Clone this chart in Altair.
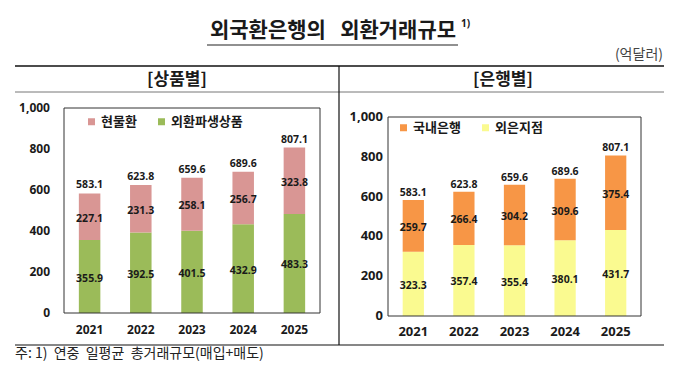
import altair as alt
import pandas as pd

years = ["2021", "2022", "2023", "2024", "2025"]
# 상품별
spot = [227.1, 231.3, 258.1, 256.7, 323.8]          # 현물환
deriv = [355.9, 392.5, 401.5, 432.9, 483.3]         # 외환파생상품
total_l = [583.1, 623.8, 659.6, 689.6, 807.1]
# 은행별
domestic = [259.7, 266.4, 304.2, 309.6, 375.4]      # 국내은행
foreign = [323.3, 357.4, 355.4, 380.1, 431.7]       # 외은지점
total_r = [583.1, 623.8, 659.6, 689.6, 807.1]
y_ticks = [0, 200, 400, 600, 800, 1000]

left_series = ["현물환", "외환파생상품"]
right_series = ["국내은행", "외은지점"]

KR = "Noto Sans CJK KR"
NUM = "Noto Sans"
INK = "#1a1a1a"
NB = "\u00a0"


def stack_df(bottom_vals, top_vals, bottom_name, top_name):
    rows = []
    for yr, b, t in zip(years, bottom_vals, top_vals):
        rows.append({"year": yr, "series": bottom_name, "bottom": 0, "top": b, "mid": b / 2, "v": b})
        rows.append({"year": yr, "series": top_name, "bottom": b, "top": b + t, "mid": b + t / 2, "v": t})
    return pd.DataFrame(rows)


df_l = stack_df(deriv, spot, "외환파생상품", "현물환")
df_r = stack_df(foreign, domestic, "외은지점", "국내은행")
tot_l = pd.DataFrame({"year": years, "total": total_l, "top": [a + b for a, b in zip(deriv, spot)]})
tot_r = pd.DataFrame({"year": years, "total": total_r, "top": [a + b for a, b in zip(foreign, domestic)]})
ticks = pd.DataFrame({"v": y_ticks})
yrs = pd.DataFrame({"year": years})
dummy = alt.Data(values=[{}])


def panel(df, tot, x_rng, y_rng, dom, colors, legx, legy, ylab_x, ylab_size, xlab_y, xlab_size, tot_dy):
    xs = alt.Scale(domain=years, range=x_rng, paddingInner=0.58, paddingOuter=0.29)
    ys = alt.Scale(domain=[0, 1000], range=y_rng, nice=False)
    X = alt.X("year:N", scale=xs, axis=None)
    bars = alt.Chart(df).mark_bar().encode(
        x=X,
        y=alt.Y("top:Q", scale=ys, axis=None),
        y2="bottom:Q",
        color=alt.Color(
            "series:N",
            scale=alt.Scale(domain=dom, range=colors),
            legend=alt.Legend(
                orient="none", legendX=legx, legendY=legy, direction="horizontal",
                title=None, symbolType="square", symbolSize=49, symbolStrokeWidth=0,
                labelFont=KR, labelFontSize=13, labelFontWeight="bold", labelColor=INK,
                columnPadding=18, labelOffset=3, padding=0,
            ),
        ),
    )
    seg = alt.Chart(df).mark_text(font=NUM, fontSize=10.5, fontWeight="bold", color=INK, dy=2).encode(
        x=X, y=alt.Y("mid:Q", scale=ys, axis=None), text=alt.Text("v:Q", format=".1f")
    )
    tots = alt.Chart(tot).mark_text(font=NUM, fontSize=10.5, fontWeight="bold", color=INK, dy=tot_dy).encode(
        x=X, y=alt.Y("top:Q", scale=ys, axis=None), text=alt.Text("total:Q", format=".1f")
    )
    ylab = alt.Chart(ticks).mark_text(font=NUM, fontSize=ylab_size, fontWeight="bold", color=INK, align="right").encode(
        x=alt.value(ylab_x), y=alt.Y("v:Q", scale=ys, axis=None), text=alt.Text("v:Q", format=",")
    )
    xlab = alt.Chart(yrs).mark_text(font=NUM, fontSize=xlab_size, fontWeight="bold", color=INK).encode(
        x=X, y=alt.value(xlab_y), text="year:N"
    )
    box = alt.Chart(dummy).mark_rect(fill=None, stroke="#333333", strokeWidth=1).encode(
        x=alt.value(x_rng[0]), x2=alt.value(x_rng[1]), y=alt.value(y_rng[1]), y2=alt.value(y_rng[0])
    )
    return [bars, box, seg, tots, ylab, xlab]


left = panel(df_l, tot_l, [56, 312], [305, 100], left_series, ["#D99694", "#9BBB59"],
             77, 107, 42, 12, 322, 12, -8)
right = panel(df_r, tot_r, [380, 633], [308, 109], right_series, ["#F79646", "#FAFA90"],
              389, 113, 375, 13, 324, 13, -7)


def rule(x1, x2, y1, y2=None, color="#111111", w=1.2):
    enc = dict(x=alt.value(x1), x2=alt.value(x2), y=alt.value(y1))
    if y2 is not None:
        enc["y2"] = alt.value(y2)
    return alt.Chart(dummy).mark_rule(color=color, strokeWidth=w).encode(**enc)


def label(txt, x, y, size, weight="normal", align="center", color=INK, font=KR):
    return alt.Chart(dummy).mark_text(
        text=txt, font=font, fontSize=size, fontWeight=weight, align=align, baseline="middle", color=color
    ).encode(x=alt.value(x), y=alt.value(y))


decor = [
    label("외국환은행의" + NB + NB + NB + "외환거래규모", 325, 23, 21, "bold"),
    rule(199, 450, 37, color="#222222", w=1.2),
    label("1)", 453, 16, 10, "bold", "left", font=NUM),
    label("(억달러)", 655, 47, 14, "normal", "right", "#444444"),
    rule(7, 656, 58, w=1.5),
    rule(7, 656, 84, color="#777777", w=1),
    rule(331, 331, 58, 337, w=1.2),
    rule(7, 656, 337, w=1.2),
    label("[상품별]", 169, 72, 17, "bold"),
    label("[은행별]", 495, 72, 17, "bold"),
    label("주: 1)" + NB + NB + "연중" + NB + NB + "일평균" + NB + NB + "총거래규모(매입+매도)",
          7, 346, 14, "normal", "left", "#222222"),
]

chart = (
    alt.layer(*(left + right + decor))
    .resolve_scale(x="independent", y="independent", color="independent")
    .properties(width=664, height=358, autosize=alt.AutoSizeParams(type="none"), padding=0)
    .configure_view(stroke=None)
)

chart.save("out.html", embed_options={"renderer": "svg", "actions": False})
